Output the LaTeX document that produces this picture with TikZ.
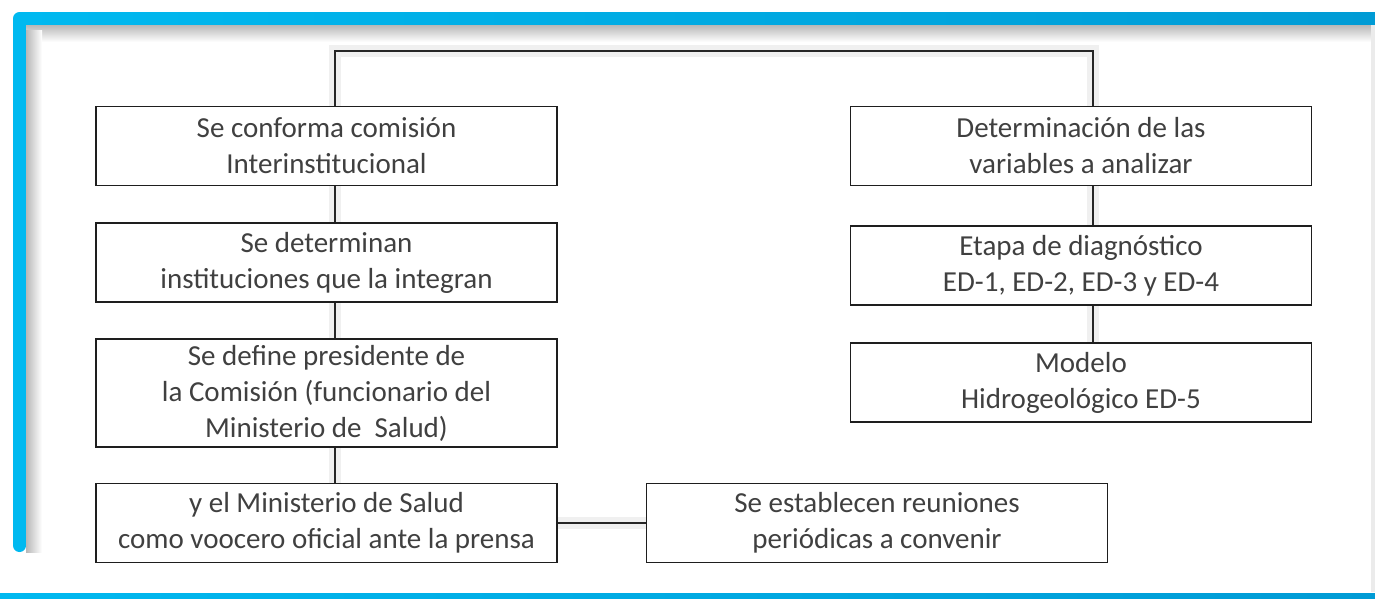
\documentclass[tikz,border=0pt]{standalone}
\usepackage{fontspec}
\setmainfont{Carlito}
\usetikzlibrary{backgrounds}
\definecolor{marcoclaro}{RGB}{0,185,240}
\definecolor{marcooscuro}{RGB}{0,155,213}
\definecolor{texto}{RGB}{64,64,64}
\definecolor{borde}{RGB}{30,30,30}

\begin{document}
\begin{tikzpicture}[x=1pt, y=-1pt,
    caja/.style={draw=borde, line width=1.8pt, fill=white, text=texto,
        minimum width=461pt, minimum height=79pt, align=center, inner sep=2pt,
        font=\fontsize{29}{36}\selectfont},
    enlace/.style={draw=black!85, line width=1.8pt},
    sombra/.style={draw=black!6, line width=12pt, xshift=8pt, yshift=-8pt}]
        \useasboundingbox (0,0) rectangle (1375,598);

        % Marco
        \fill[marcoclaro, rounded corners=6.5pt] (13,12) rectangle (26,552);
        \shade[left color=marcoclaro, right color=marcooscuro] (19.5,12) rectangle (1375,25);
        \shade[top color=black!28, bottom color=white] (26,25) rectangle (1371,42);
        \shade[left color=black!28, right color=white] (26,30) rectangle (42,552);
        \fill[black!8] (1371,25) rectangle (1375,592);
        \shade[left color=marcoclaro, right color=marcooscuro] (0,593) rectangle (1375,598);

        % Comision
        \node[caja] (comision) at (326.5,146) {Se conforma comisión\\Interinstitucional};
        \node[caja] (integran) at (326.5,262.5) {Se determinan\\instituciones que la integran};
        \node[caja, minimum height=108pt] (presidente) at (326.5,393)
            {Se define presidente de\\la Comisión (funcionario del\\Ministerio de\ \ Salud)};
        \node[caja] (vocero) at (326.5,523) {y el Ministerio de Salud\\como voocero oficial ante la prensa};
        \node[caja] (reuniones) at (877,523) {Se establecen reuniones\\periódicas a convenir};

        % Etapas
        \node[caja] (variables) at (1081,146) {Determinación de las\\variables a analizar};
        \node[caja] (diagnostico) at (1081,265.5) {Etapa de diagnóstico\\ED-1, ED-2, ED-3 y ED-4};
        \node[caja] (modelo) at (1081,382.5) {Modelo\\Hidrogeológico ED-5};

        % Enlaces
        \coordinate (izq) at (335,51);
        \coordinate (der) at (1093,51);
        \begin{scope}[on background layer]
            \draw[sombra] (comision.north -| izq) -- (izq) -- (der) -- (variables.north -| der);
            \draw[sombra] (comision.south -| izq) -- (vocero.north -| izq);
            \draw[sombra] (variables.south -| der) -- (modelo.north -| der);
            \draw[sombra] (vocero.east) -- (reuniones.west);
        \end{scope}
        \draw[enlace] (comision.north -| izq) -- (izq) -- (der) -- (variables.north -| der);
        \foreach \a/\b in {comision/integran, integran/presidente, presidente/vocero}
            \draw[enlace] (\a.south -| izq) -- (\b.north -| izq);
        \foreach \a/\b in {variables/diagnostico, diagnostico/modelo}
            \draw[enlace] (\a.south -| der) -- (\b.north -| der);
        \draw[enlace] (vocero.east) -- (reuniones.west);
    \end{tikzpicture}
\end{document}
